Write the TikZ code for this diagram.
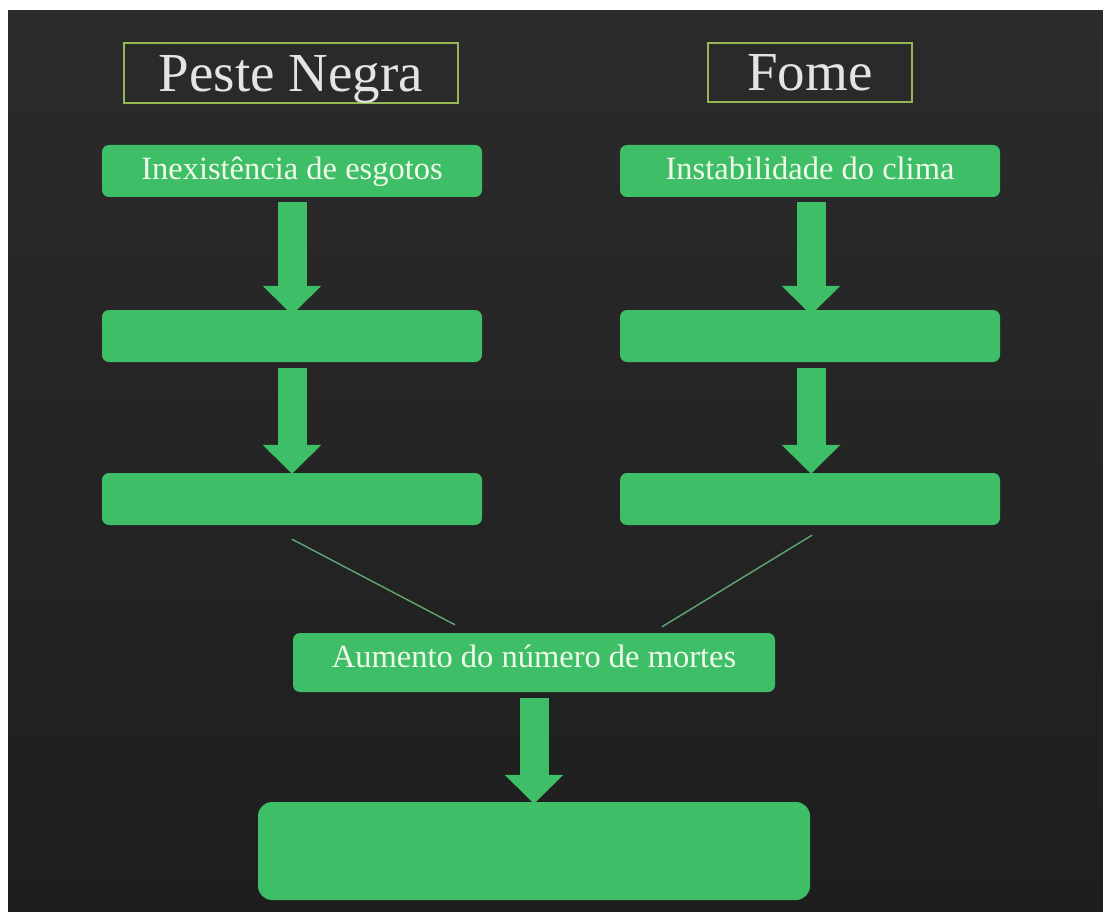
\documentclass[tikz,border=0pt]{standalone}
\usepackage{fontspec}
\setmainfont{Liberation Serif}
\usetikzlibrary{arrows.meta}
\definecolor{bgtop}{HTML}{2B2B2B}
\definecolor{bgbot}{HTML}{1E1E1F}
\definecolor{boxgreen}{HTML}{3EBE66}
\definecolor{boxtext}{HTML}{F1FAEA}
\definecolor{titletext}{HTML}{E4E4E4}
\definecolor{titleframe}{HTML}{94B653}
\definecolor{linkgreen}{HTML}{5EA872}
\tikzset{
  x=1pt, y=1pt,
  greenbox/.style={fill=boxgreen, rounded corners=7pt, inner sep=0pt,
    text=boxtext, font=\fontsize{32.5}{36}\selectfont,
    text height=18pt, text depth=0pt},
  titlebox/.style={draw=titleframe, line width=1.3pt, inner sep=0pt,
    text=titletext, font=\fontsize{55}{60}\selectfont,
    text height=37pt, text depth=0pt},
  blockarrow/.style={draw=boxgreen, line width=29pt,
    -{Triangle[width=57pt,length=29pt]}},
  link/.style={draw=linkgreen, line width=1.4pt}
}
\begin{document}
\begin{tikzpicture}
\useasboundingbox (0,0) rectangle (1103,-912);
\fill[white] (0,0) rectangle (1103,-912);
\shade[top color=bgtop, bottom color=bgbot] (8,-11) rectangle (1103,-912);

% titles
\node[titlebox, minimum width=334pt, minimum height=60pt] (t1) at (291,-73) {Peste Negra};
\node[titlebox, minimum width=204pt, minimum height=59pt] (t2) at (810,-72.5) {Fome};

% left column
\node[greenbox, minimum width=380pt, minimum height=52pt] (l1) at (292,-171) {Inexistência de esgotos};
\node[greenbox, minimum width=380pt, minimum height=52pt] (l2) at (292,-336) {};
\node[greenbox, minimum width=380pt, minimum height=52pt] (l3) at (292,-499) {};

% right column
\node[greenbox, minimum width=380pt, minimum height=52pt] (r1) at (810,-171) {Instabilidade do clima};
\node[greenbox, minimum width=380pt, minimum height=52pt] (r2) at (810,-336) {};
\node[greenbox, minimum width=380pt, minimum height=52pt] (r3) at (810,-499) {};

% middle and bottom
\node[greenbox, minimum width=482pt, minimum height=59pt, text height=14pt, text depth=4pt] (m) at (534,-662.5) {Aumento do número de mortes};
\node[greenbox, rounded corners=14pt, minimum width=552pt, minimum height=98pt] (b) at (534,-851) {};

% block arrows
\draw[blockarrow] ([yshift=-5pt]l1.south) -- ([yshift=-5pt]l2.north);
\draw[blockarrow] ([yshift=-6pt]l2.south) -- ([yshift=-1pt]l3.north);
\draw[blockarrow] ([xshift=1pt,yshift=-5pt]r1.south) -- ([xshift=1pt,yshift=-5pt]r2.north);
\draw[blockarrow] ([xshift=1pt,yshift=-6pt]r2.south) -- ([xshift=1pt,yshift=-1pt]r3.north);
\draw[blockarrow] ([yshift=-6pt]m.south) -- ([yshift=-2pt]b.north);

% converging lines
\draw[link] ([yshift=-14pt]l3.south) -- ([xshift=-79pt,yshift=8pt]m.north);
\draw[link] ([xshift=2pt,yshift=-10pt]r3.south) -- ([xshift=128pt,yshift=6pt]m.north);
\end{tikzpicture}
\end{document}
